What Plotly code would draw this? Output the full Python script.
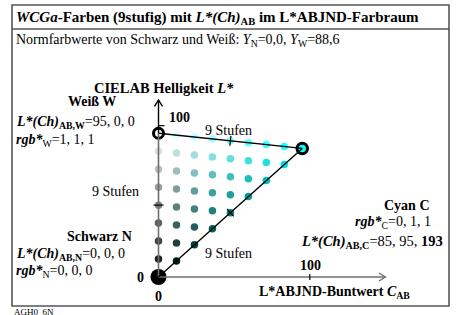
import plotly.graph_objects as go

# ---- data ----
steps = 9
black_LC = [0, 0]        # [C, L]
white_LC = [0, 95]
cyan_LC = [95, 85]
black_rgb = [0, 0, 0]
white_rgb = [1, 1, 1]
cyan_rgb = [0, 1, 1]
x_tick_values = [100]
y_tick_values = [100]
x_axis_max = 150
y_axis_max = 117

W, H = 456, 315
S = 1.513            # px per unit
OX, OY = 158.5, 277  # origin in px

xr = [-OX / S, (W - OX) / S]
yr = [-(H - OY) / S, OY / S]

def px(x, y):
    return x / W, 1 - y / H

n = steps - 1
xs, ys, cols = [], [], []
for c in range(steps):
    for w in range(steps - c):
        k = n - c - w
        C = (c * cyan_LC[0] + w * white_LC[0] + k * black_LC[0]) / n
        L = (c * cyan_LC[1] + w * white_LC[1] + k * black_LC[1]) / n
        rgb = [(c * cyan_rgb[i] + w * white_rgb[i] + k * black_rgb[i]) / n for i in range(3)]
        xs.append(C); ys.append(L)
        cols.append("rgb(%d,%d,%d)" % tuple(round(v * 255) for v in rgb))

fig = go.Figure()

shapes = []
gray = "#707070"
shapes.append(dict(type="line", xref="x", yref="y", x0=0, y0=0, x1=x_axis_max, y1=0, line=dict(color=gray, width=1.6)))
shapes.append(dict(type="line", xref="x", yref="y", x0=0, y0=0, x1=0, y1=white_LC[1], line=dict(color=gray, width=1.6)))
shapes.append(dict(type="line", xref="x", yref="y", x0=0, y0=white_LC[1], x1=0, y1=y_axis_max, line=dict(color="black", width=1.4)))
a = 5 / S
shapes.append(dict(type="path", xref="x", yref="y",
                   path=f"M {x_axis_max-1.3*a},{a*0.8} L {x_axis_max},0 L {x_axis_max-1.3*a},{-a*0.8}",
                   line=dict(color=gray, width=1.4)))
shapes.append(dict(type="path", xref="x", yref="y",
                   path=f"M {-a*0.8},{y_axis_max-1.3*a} L 0,{y_axis_max} L {a*0.8},{y_axis_max-1.3*a}",
                   line=dict(color="black", width=1.4)))
for t in x_tick_values:
    shapes.append(dict(type="line", xref="x", yref="y", x0=t, y0=-3/S, x1=t, y1=3/S, line=dict(color="black", width=1.2)))
for t in y_tick_values:
    shapes.append(dict(type="line", xref="x", yref="y", x0=0, y0=t, x1=6/S, y1=t, line=dict(color="black", width=1.2)))
for p, q in [(black_LC, cyan_LC), (white_LC, cyan_LC)]:
    shapes.append(dict(type="line", xref="x", yref="y", x0=p[0], y0=p[1], x1=q[0], y1=q[1], line=dict(color="black", width=1.4)))
half = n // 2
for p, q in [(black_LC, cyan_LC), (white_LC, cyan_LC), (black_LC, white_LC)]:
    mx = p[0] + (q[0] - p[0]) * half / n
    my = p[1] + (q[1] - p[1]) * half / n
    dx, dy = q[0] - p[0], q[1] - p[1]
    ln = (dx * dx + dy * dy) ** 0.5
    nx, ny = -dy / ln * 5 / S, dx / ln * 5 / S
    shapes.append(dict(type="line", xref="x", yref="y", x0=mx - nx, y0=my - ny, x1=mx + nx, y1=my + ny, line=dict(color="black", width=1.2)))

fc = "#555555"
x0p, x1p, y0p, y1p = 12, 449, 5, 306
shapes.append(dict(type="rect", xref="paper", yref="paper", x0=x0p/W, x1=x1p/W, y0=1-y1p/H, y1=1-y0p/H, line=dict(color=fc, width=1.6)))
shapes.append(dict(type="line", xref="paper", yref="paper", x0=x0p/W, x1=x1p/W, y0=1-29/H, y1=1-29/H, line=dict(color=fc, width=1.4)))

sx, sy, sc = [], [], []
for x, y, c in zip(xs, ys, cols):
    if (x, y) in [(black_LC[0], black_LC[1]), (white_LC[0], white_LC[1]), (cyan_LC[0], cyan_LC[1])]:
        continue
    sx.append(x); sy.append(y); sc.append(c)
fig.add_trace(go.Scatter(x=sx, y=sy, mode="markers", marker=dict(size=7.5, color=sc, line=dict(width=0)), hoverinfo="skip"))
fig.add_trace(go.Scatter(x=[white_LC[0]], y=[white_LC[1]], mode="markers",
                         marker=dict(size=10, color="white", line=dict(color="black", width=3))))
fig.add_trace(go.Scatter(x=[cyan_LC[0]], y=[cyan_LC[1]], mode="markers",
                         marker=dict(size=10.5, color="rgb(0,255,255)", line=dict(color="black", width=3))))
fig.add_trace(go.Scatter(x=[black_LC[0]], y=[black_LC[1]], mode="markers",
                         marker=dict(size=16, color="black", line=dict(width=0))))

FONT = "Liberation Serif"
ann = []
def T(text, x, y, size=14, anchor="left"):
    X, Y = px(x, y)
    ann.append(dict(text=text, x=X, y=Y, xref="paper", yref="paper", xanchor=anchor, yanchor="middle",
                    showarrow=False, font=dict(family=FONT, size=size, color="black")))

T("<b><i>WCGa</i>-Farben (9stufig) mit <i>L*(Ch)</i><sub>AB</sub> im L*ABJND-Farbraum</b>", 14, 18, 15)
T("Normfarbwerte von Schwarz und Weiß: <i>Y</i><sub>N</sub>=0,0, <i>Y</i><sub>W</sub>=88,6", 14, 41, 14)
T("<b>CIELAB Helligkeit <i>L*</i></b>", 164, 88, 14.5, "center")
T("<b>Weiß W</b>", 118, 102, 14, "right")
T("<b><i>L*(Ch)</i><sub>AB,W</sub></b>=95, 0, 0", 14, 123, 14)
T("<b><i>rgb*</i></b><sub>W</sub>=1, 1, 1", 14, 140, 14)
T("<b>100</b>", 167, 117, 14)
T("9 Stufen", 203, 130, 14)
T("9 Stufen", 90, 191, 14)
T("9 Stufen", 203, 253, 14)
T("<b>Cyan C</b>", 432, 205, 14, "right")
T("<b><i>rgb*</i></b><sub>C</sub>=0, 1, 1", 433, 222, 14, "right")
T("<b><i>L*(Ch)</i><sub>AB,C</sub></b>=85, 95, <b>193</b>", 445, 242, 14.5, "right")
T("<b>Schwarz N</b>", 134, 236, 14, "right")
T("<b><i>L*(Ch)</i><sub>AB,N</sub></b>=0, 0, 0", 14, 254, 14)
T("<b><i>rgb*</i></b><sub>N</sub>=0, 0, 0", 14, 271, 14)
T("<b>0</b>", 146, 277, 14, "right")
T("<b>0</b>", 158.5, 296, 14, "center")
T("<b>100</b>", 310, 265, 14, "center")
T("<b>L*ABJND-Buntwert <i>C</i><sub>AB</sub></b>", 334, 292, 14, "center")
T("AGH0_6N", 12, 312, 9)

fig.update_layout(
    width=W, height=H, margin=dict(l=0, r=0, t=0, b=0),
    paper_bgcolor="white", plot_bgcolor="white", showlegend=False,
    xaxis=dict(range=xr, visible=False, fixedrange=True),
    yaxis=dict(range=yr, visible=False, fixedrange=True),
    shapes=shapes, annotations=ann,
)
fig.write_html("out.html", config={"displayModeBar": False},
               post_script="document.body.style.margin='0';document.body.style.overflow='hidden';")
